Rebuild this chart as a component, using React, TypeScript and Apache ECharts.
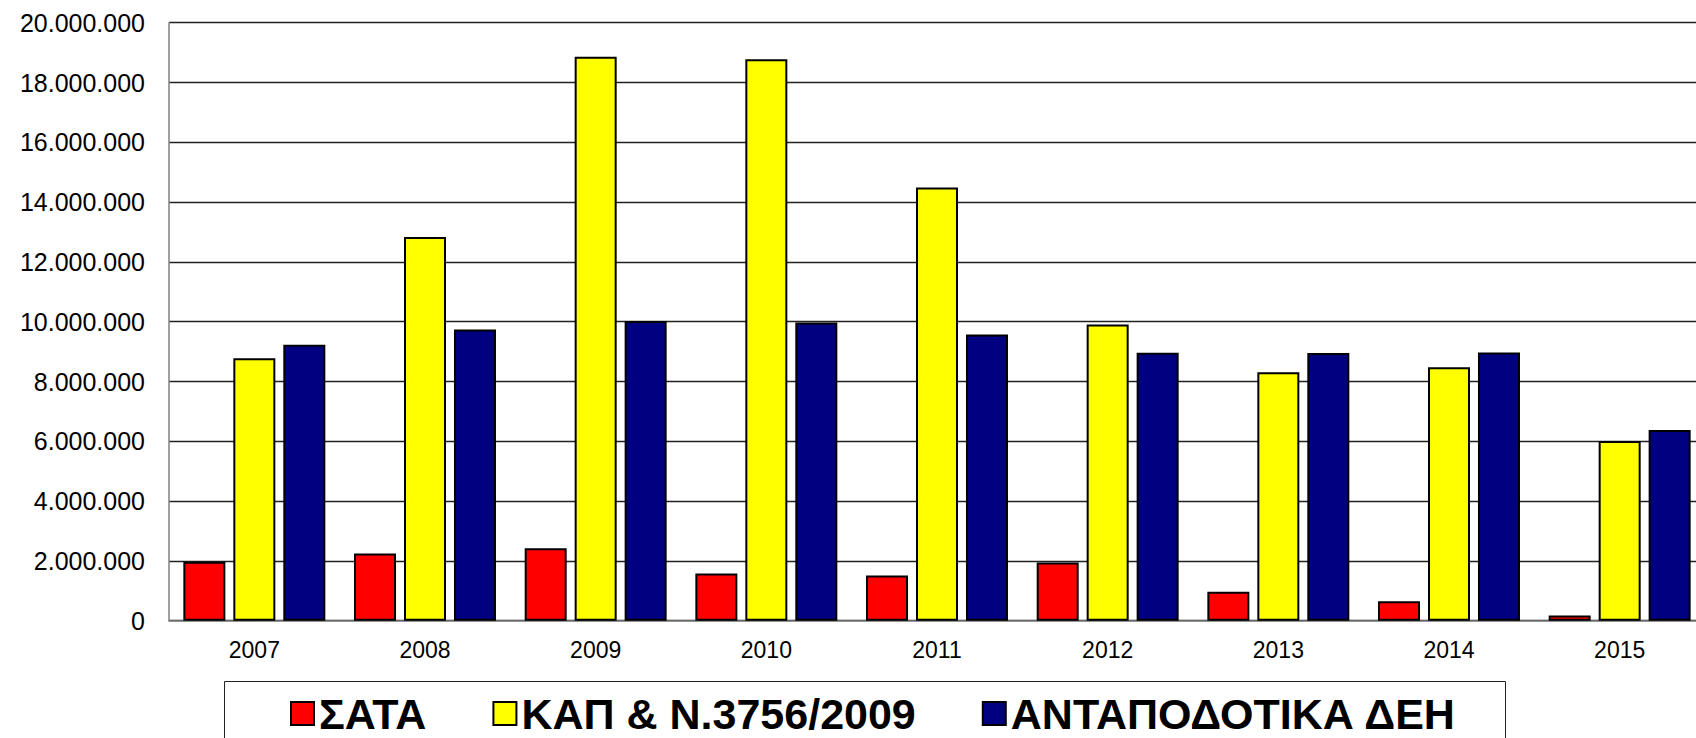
import React, { useEffect, useRef } from "react";
import * as echarts from "echarts";

const years = ["2007", "2008", "2009", "2010", "2011", "2012", "2013", "2014", "2015"];
const seriesNames = ["ΣΑΤΑ", "ΚΑΠ & Ν.3756/2009", "ΑΝΤΑΠΟΔΟΤΙΚΑ ΔΕΗ"];
const sata = [1970000, 2250000, 2420000, 1580000, 1510000, 1950000, 970000, 650000, 170000];
const kap = [8780000, 12830000, 18860000, 18780000, 14490000, 9910000, 8310000, 8480000, 6010000];
const deh = [9230000, 9740000, 10020000, 9970000, 9570000, 8960000, 8950000, 8970000, 6380000];
const colors = ["#FF0000", "#FFFF00", "#000080"];

const FONT = "'Liberation Sans', Arial, sans-serif";

function fmt(v: number): string {
  return String(Math.round(v)).replace(/\B(?=(\d{3})+(?!\d))/g, ".");
}

export default function App() {
  const ref = useRef<HTMLDivElement>(null);
  useEffect(() => {
    if (!ref.current) return;
    const chart = echarts.init(ref.current, undefined, { renderer: "svg" });
    const data = [sata, kap, deh];
    chart.setOption({
      animation: false,
      backgroundColor: "#ffffff",
      grid: { left: 169, top: 22.7, width: 1536, height: 598, containLabel: false },
      xAxis: {
        type: "category",
        data: years,
        axisLine: { show: true, lineStyle: { color: "#808080", width: 1.5 } },
        axisTick: { show: false },
        axisLabel: { color: "#000", fontSize: 23, fontFamily: FONT, margin: 18 },
        splitLine: { show: false },
      },
      yAxis: {
        type: "value",
        min: 0,
        max: 20000000,
        interval: 2000000,
        axisLine: { show: true, lineStyle: { color: "#808080", width: 1.5 } },
        axisTick: { show: false },
        axisLabel: { color: "#000", fontSize: 25, fontFamily: FONT, margin: 24, formatter: (v: number) => fmt(v) },
        splitLine: { show: true, lineStyle: { color: "#222", width: 1.3 } },
      },
      legend: {
        left: 290,
        top: 692,
        padding: 0,
        itemWidth: 23,
        itemHeight: 23,
        itemGap: 66,
        icon: "rect",
        textStyle: { fontSize: 43, fontWeight: "bold", color: "#000", fontFamily: FONT },
        data: seriesNames,
      },
      graphic: [
        {
          type: "rect",
          shape: { x: 224.5, y: 681.5, width: 1281, height: 100 },
          style: { fill: "none", stroke: "#222", lineWidth: 1 },
          z: 0,
        },
      ],
      series: seriesNames.map((name, i) => ({
        name,
        type: "bar",
        data: data[i],
        barWidth: 42,
        barGap: "19%",
        itemStyle: { color: colors[i], borderColor: "#000", borderWidth: 2 },
      })),
    });
    return () => chart.dispose();
  }, []);
  return (
    <div
      ref={ref}
      style={{ position: "fixed", left: 0, top: 0, width: 1720, height: 738, background: "#fff" }}
    />
  );
}
